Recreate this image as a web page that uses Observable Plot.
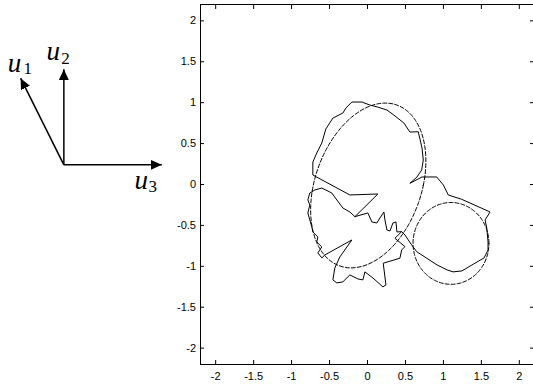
<!DOCTYPE html>
<html><head><meta charset="utf-8">
<script src="https://cdn.jsdelivr.net/npm/d3@7"></script>
<script src="https://cdn.jsdelivr.net/npm/@observablehq/plot@0.6"></script>
<style>body{margin:0;background:#fff} svg{display:block}
.serif-label text{font-family:'Liberation Serif','DejaVu Serif',serif !important;}
</style>
</head><body><div id="chart"></div>
<script>
const xTicks = [-2, -1.5, -1, -0.5, 0, 0.5, 1, 1.5, 2];
const yTicks = [-2, -1.5, -1, -0.5, 0, 0.5, 1, 1.5, 2];

// traced trajectory (data units)
const pathX = [0.45,0.493,0.582,0.648,0.780,0.916,1.048,1.127,1.245,1.377,
  1.536,1.588,1.588,1.571,1.549,1.615,1.241,1.065,0.999,0.912,
  0.718,0.559,0.652,0.714,0.735,0.718,0.669,0.559,0.480,0.348,
  0.256,0.137,0.032,-0.074,-0.206,-0.285,-0.325,-0.456,-0.549,-0.602,
  -0.668,-0.720,-0.720,-0.232,0.137,-0.166,0.005,0.058,0.124,0.164,
  0.216,0.230,0.256,0.296,0.335,0.375,0.388,0.45,0.361,0.493,
  0.45,0.427,0.207,0.243,0.203,0.071,-0.034,-0.061,-0.127,-0.232,
  -0.325,-0.404,-0.456,-0.430,-0.364,-0.206,-0.562,-0.602,-0.654,-0.602,
  -0.668,-0.654,-0.720,-0.733,-0.760,-0.786,-0.760,-0.786,-0.760,-0.694,
  -0.602,-0.470,-0.404,-0.325,-0.232,-0.166];
const pathY = [-0.576,-0.617,-0.739,-0.821,-0.901,-0.983,-1.044,-1.068,-1.056,-0.983,
  -0.897,-0.800,-0.702,-0.531,-0.433,-0.336,-0.181,-0.128,-0.006,0.092,
  0.092,0.015,0.092,0.177,0.299,0.446,0.645,0.641,0.751,0.848,
  0.910,0.946,0.971,1.008,1.008,0.934,0.873,0.812,0.678,0.507,
  0.385,0.275,0.116,-0.128,-0.116,-0.393,-0.348,-0.458,-0.470,-0.409,
  -0.336,-0.433,-0.556,-0.568,-0.470,-0.458,-0.580,-0.576,-0.657,-0.759,
  -0.800,-0.901,-0.962,-1.227,-1.252,-1.142,-1.068,-1.166,-1.154,-1.105,
  -1.190,-1.203,-1.166,-1.020,-0.885,-0.678,-0.861,-0.897,-0.836,-0.763,
  -0.702,-0.641,-0.580,-0.519,-0.433,-0.348,-0.250,-0.189,-0.104,-0.067,
  -0.043,-0.104,-0.189,-0.287,-0.336,-0.393];

// dashed ellipse: center + cos-term and sin-term axes
const ellipseCenter = [0.01, -0.012];
const ellipseCosAxis = [0.725, 0];
const ellipseSinAxis = [0.225, 1.007];
// dashed circle
const circleCenter = [1.1, -0.72];
const circleRadius = 0.5;

// basis-vector arrows (drawn left of the frame, in the same data units)
const arrowNames = ["1", "2", "3"];
const arrowOrigin = [-4.0, 0.24];
const arrowTipX = [-4.57, -4.0, -2.71];
const arrowTipY = [1.30, 1.41, 0.24];
const letterX = [-4.74, -4.23, -3.07];
const letterY = [1.381, 1.516, -0.049];
const subX = [-4.532, -4.035, -2.885];
const subY = [1.355, 1.470, -0.09];

const angles = d3.range(0, 361, 2).map(a => a * Math.PI / 180);
const ellipsePts = angles.map(t => ({
  x: ellipseCenter[0] + ellipseCosAxis[0] * Math.cos(t) + ellipseSinAxis[0] * Math.sin(t),
  y: ellipseCenter[1] + ellipseCosAxis[1] * Math.cos(t) + ellipseSinAxis[1] * Math.sin(t)
}));
const circlePts = angles.map(t => ({
  x: circleCenter[0] + circleRadius * Math.cos(t),
  y: circleCenter[1] + circleRadius * Math.sin(t)
}));
const pathIdx = d3.range(pathX.length);
const arrIdx = d3.range(arrowNames.length);

const fmt = d => String(d);
const plot = Plot.plot({
  width: 533, height: 385,
  marginLeft: 200, marginRight: 0, marginTop: 4, marginBottom: 21,
  x: {domain: [-2.2, 2.2], range: [200, 534]},
  y: {domain: [-2.2, 2.2], range: [364, 4]},
  style: {fontFamily: "'Liberation Sans', Arial, sans-serif", fontSize: "11px", background: "white", color: "black"},
  marks: [
    Plot.axisX(xTicks, {anchor: "bottom", tickSize: -4, tickPadding: 11.5, tickFormat: fmt, label: null}),
    Plot.axisX(xTicks, {anchor: "top", tickSize: -4, text: null, label: null}),
    Plot.axisY(yTicks, {anchor: "left", tickSize: -4, tickPadding: 8.5, tickFormat: fmt, label: null}),
    Plot.axisY(yTicks, {anchor: "right", tickSize: -4, text: null, label: null}),
    Plot.ruleX([-2.2], {stroke: "black"}),
    Plot.ruleY([-2.2, 2.2], {stroke: "black"}),
    Plot.line(ellipsePts, {x: "x", y: "y", stroke: "black", strokeWidth: 1, strokeDasharray: "4,2"}),
    Plot.line(circlePts, {x: "x", y: "y", stroke: "black", strokeWidth: 1, strokeDasharray: "4,2"}),
    Plot.line(pathIdx, {x: i => pathX[i], y: i => pathY[i], stroke: "black", strokeWidth: 1}),
    Plot.link(arrIdx, {x1: () => arrowOrigin[0], y1: () => arrowOrigin[1], x2: i => arrowTipX[i], y2: i => arrowTipY[i],
      stroke: "black", strokeWidth: 1.5, strokeLinecap: "butt", markerEnd: "arrow"}),
    Plot.text(arrIdx, {x: i => letterX[i], y: i => letterY[i], text: () => "u", textAnchor: "start", lineAnchor: "bottom",
      className: "serif-label", fontStyle: "italic", fontSize: 27}),
    Plot.text(arrIdx, {x: i => subX[i], y: i => subY[i], text: i => arrowNames[i], textAnchor: "start", lineAnchor: "bottom",
      className: "serif-label", fontSize: 17})
  ]
});
plot.querySelectorAll("marker").forEach(m => {
  m.setAttribute("viewBox", "-11 -5 11 10");
  m.setAttribute("markerUnits", "userSpaceOnUse");
  m.setAttribute("markerWidth", "11");
  m.setAttribute("markerHeight", "10");
  m.setAttribute("refX", "0");
  m.setAttribute("refY", "0");
  m.setAttribute("fill", "black");
  m.setAttribute("stroke", "none");
  m.innerHTML = "";
  const p = document.createElementNS("http://www.w3.org/2000/svg", "path");
  p.setAttribute("d", "M-11,-5L0,0L-11,5Z");
  m.appendChild(p);
});
document.getElementById("chart").appendChild(plot);
</script>
</body></html>
